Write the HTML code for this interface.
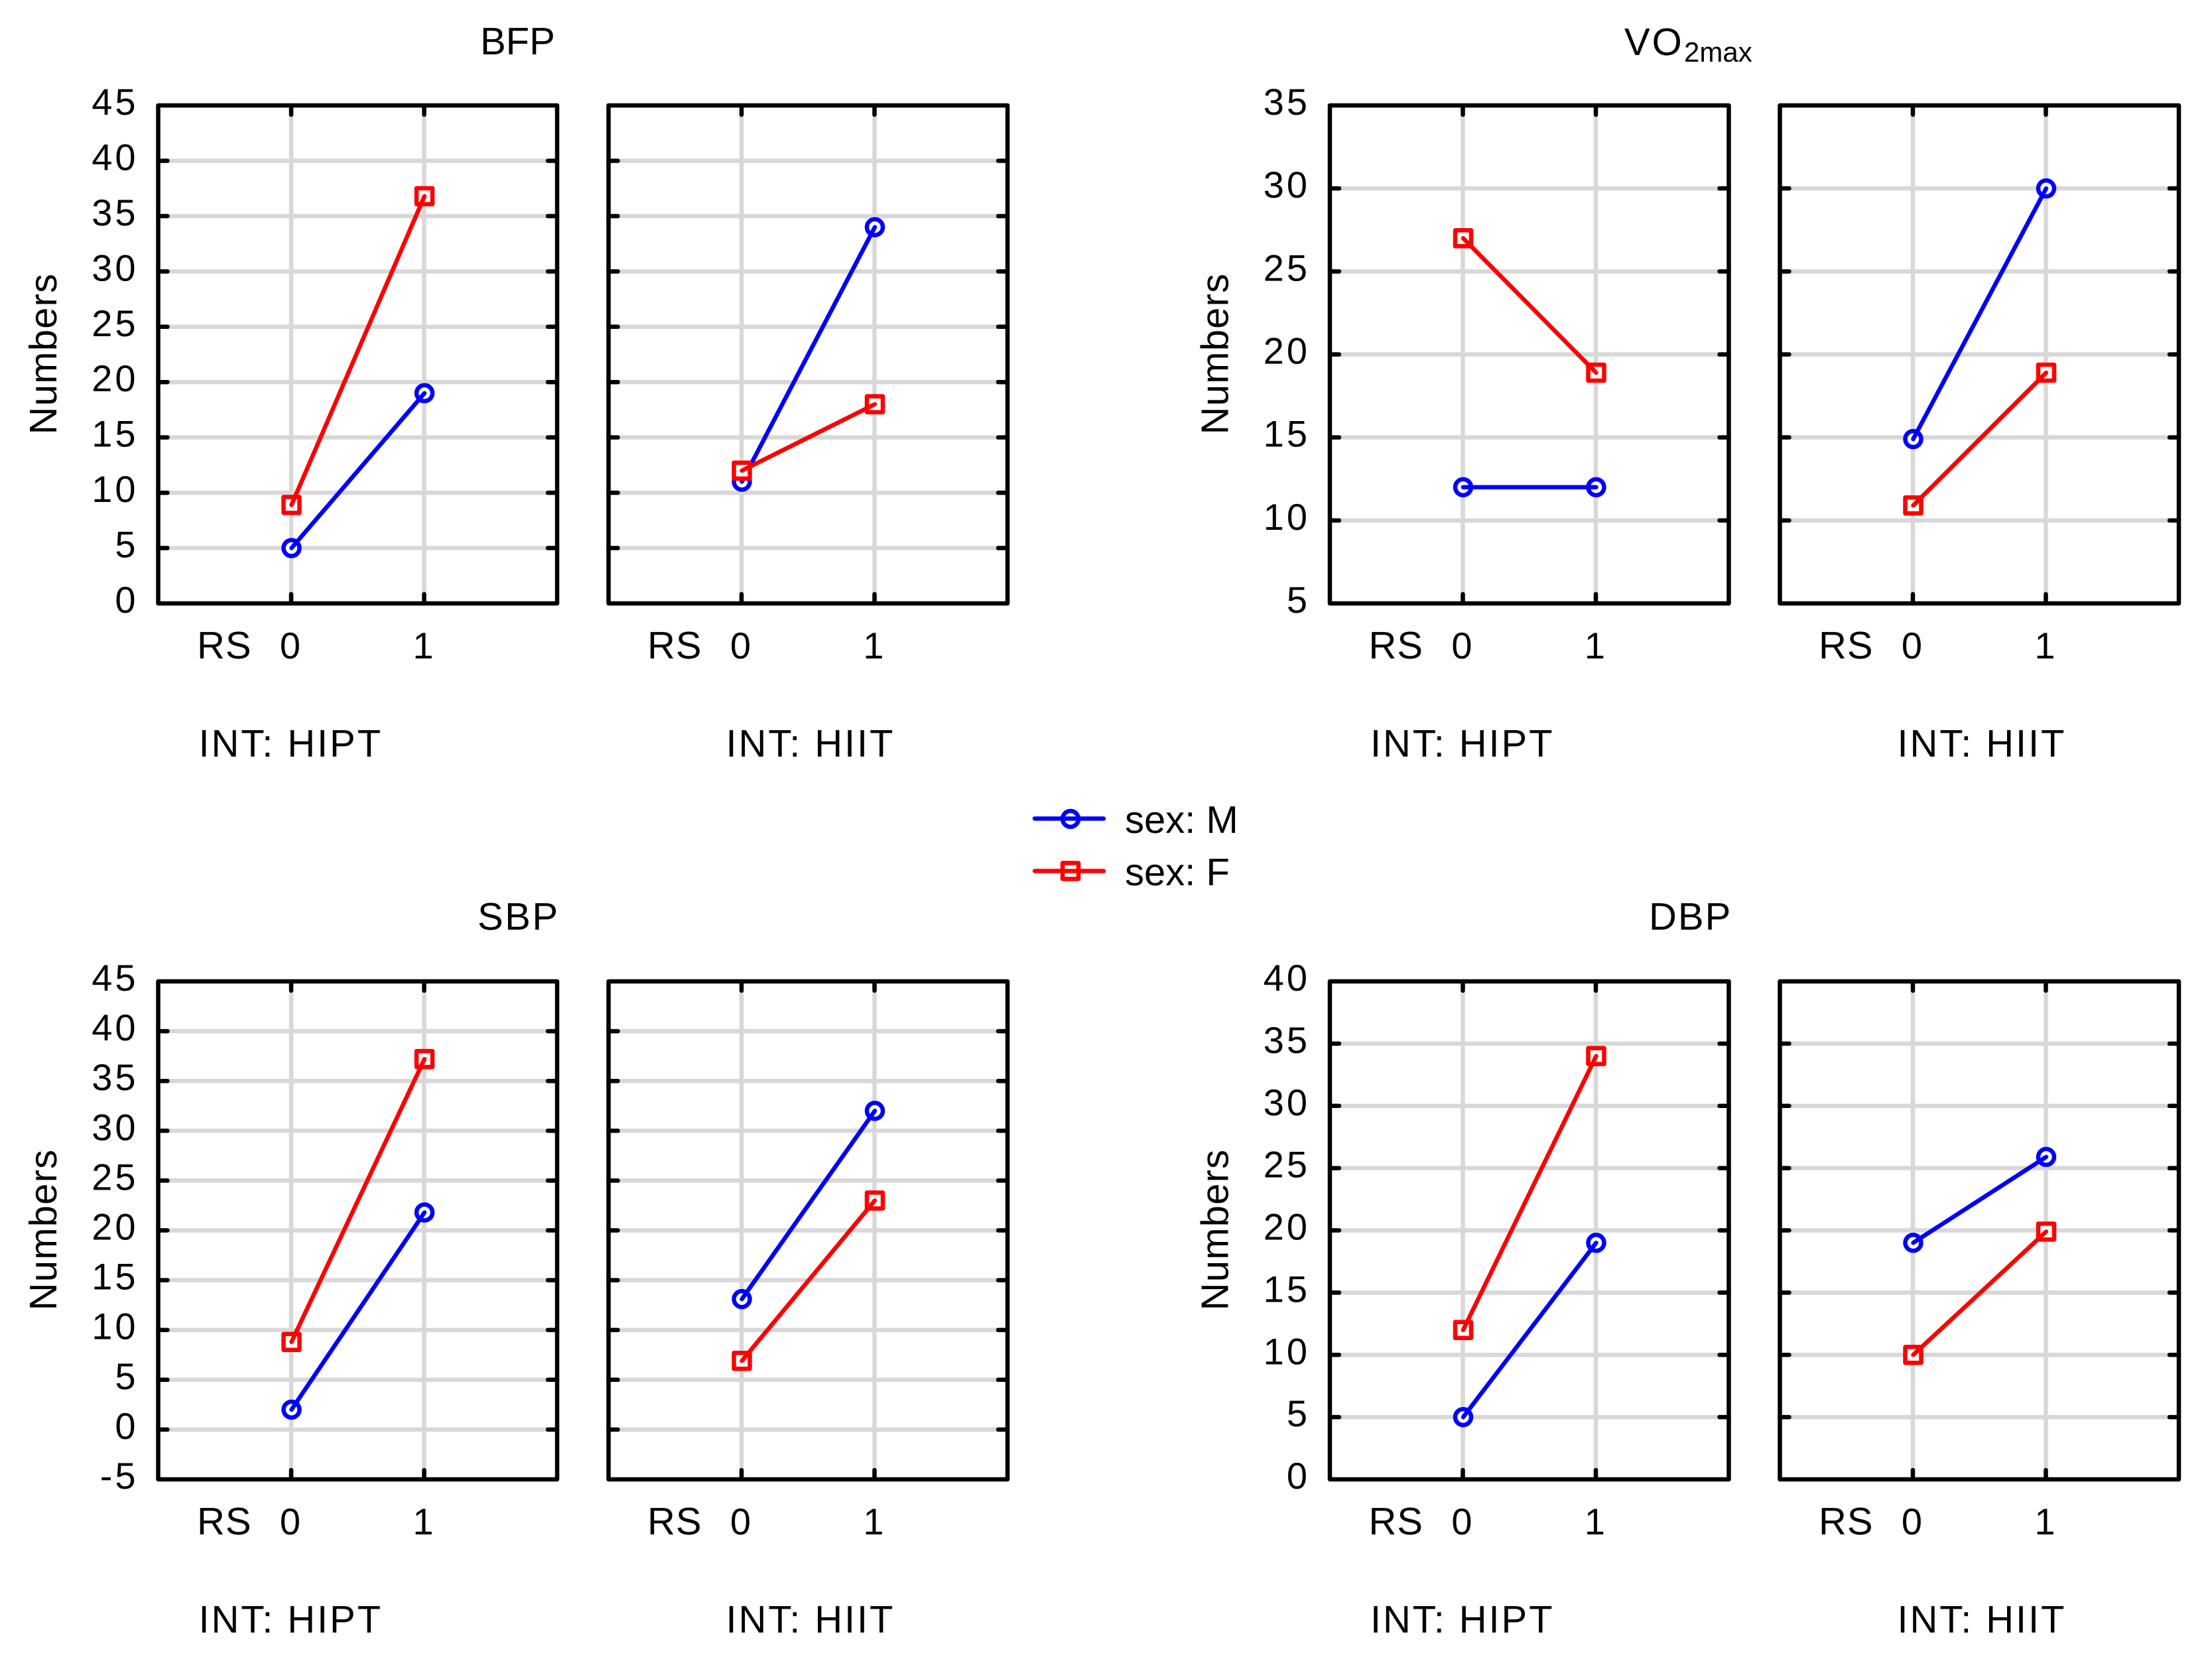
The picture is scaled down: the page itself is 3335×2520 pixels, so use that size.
<!DOCTYPE html>
<html lang="en">
<head>
<meta charset="utf-8">
<title>Numbers by RS, INT and sex</title>
<style>
html,body{margin:0;padding:0;background:#fff;}
svg{display:block;}
text{font-family:"Liberation Sans",Arial,sans-serif;fill:#000;text-rendering:geometricPrecision;}
</style>
</head>
<body>
<svg id="chart" xmlns="http://www.w3.org/2000/svg" width="3335" height="2520" viewBox="0 0 3335 2520">
  <rect x="0" y="0" width="3335" height="2520" fill="#fff"/>
  <text x="724" y="82" font-size="58">BFP</text>
  <text x="2449" y="83" font-size="58" style="letter-spacing:3px">VO<tspan x="2539" y="93" font-size="42" style="letter-spacing:0">2max</tspan></text>
  <text x="720" y="1402" font-size="58" style="letter-spacing:2.5px">SBP</text>
  <text x="2486" y="1402" font-size="58" style="letter-spacing:2px">DBP</text>
  <g id="plots"></g>
  <g>
    <g>
      <line x1="1560" y1="1234.5" x2="1664" y2="1234.5" stroke="#0000ff" stroke-width="6.5" stroke-linecap="round"/>
      <circle cx="1614" cy="1235" r="12" fill="none" stroke="#0000ff" stroke-width="6.5"/>
      <text x="1696" y="1256" font-size="58">sex: M</text>
    </g>
    <g>
      <line x1="1560" y1="1313.5" x2="1664" y2="1313.5" stroke="#ff0000" stroke-width="6.5" stroke-linecap="round"/>
      <rect x="1602" y="1301.5" width="24" height="24" fill="none" stroke="#ff0000" stroke-width="6.5" stroke-linejoin="round"/>
      <text x="1696" y="1335" font-size="58">sex: F</text>
    </g>
  </g>
</svg>
<script>
// Category labels
const rsLevels = ['0', '1'];
const intLevels = ['HIPT', 'HIIT'];

// Y-axis tick labels
const bfpTicks = [0, 5, 10, 15, 20, 25, 30, 35, 40, 45];
const vo2Ticks = [5, 10, 15, 20, 25, 30, 35];
const sbpTicks = [-5, 0, 5, 10, 15, 20, 25, 30, 35, 40, 45];
const dbpTicks = [0, 5, 10, 15, 20, 25, 30, 35, 40];

// Series values, read at RS = 0 and RS = 1
const bfpHiptMale = [5, 19];
const bfpHiptFemale = [8.9, 36.8];
const bfpHiitMale = [11, 34];
const bfpHiitFemale = [12, 18];

const vo2HiptMale = [12, 12];
const vo2HiptFemale = [27, 18.9];
const vo2HiitMale = [14.9, 30];
const vo2HiitFemale = [10.9, 18.9];

const sbpHiptMale = [2, 21.8];
const sbpHiptFemale = [8.8, 37.2];
const sbpHiitMale = [13.1, 32];
const sbpHiitFemale = [6.9, 23];

const dbpHiptMale = [5, 19];
const dbpHiptFemale = [12, 34];
const dbpHiitMale = [19, 25.9];
const dbpHiitFemale = [10, 19.9];

const SVGNS = 'http://www.w3.org/2000/svg';
const root = document.getElementById('plots');
const PANEL_W = 601.5;
const PANEL_H = 751;
const BLUE = '#0000ff';
const RED = '#ff0000';
const GRID = '#d8d8d8';

function make(tag, parent, attrs) {
  const el = document.createElementNS(SVGNS, tag);
  for (const k in attrs) el.setAttribute(k, attrs[k]);
  parent.appendChild(el);
  return el;
}

function drawPanel(slug, left, top, ticks, male, female, intIndex, showY) {
  const bottom = top + PANEL_H;
  const right = left + PANEL_W;
  const yMin = ticks[0];
  const yMax = ticks[ticks.length - 1];
  const xScale = function (i) { return left + PANEL_W * (i + 1) / 3; };
  const yScale = function (v) { return bottom - (v - yMin) / (yMax - yMin) * PANEL_H; };

  const panel = make('g', root, {});
  
  

  // grid
  ticks.slice(1, -1).forEach(function (t) {
    const y = yScale(t);
    const g = make('line', panel, { x1: left, x2: right, y1: y, y2: y, stroke: GRID, 'stroke-width': 6.5 });
    
    
  });
  rsLevels.forEach(function (lab, i) {
    const x = xScale(i);
    const g = make('line', panel, { x1: x, x2: x, y1: top, y2: bottom, stroke: GRID, 'stroke-width': 6.5 });
    
    
  });

  // tick marks
  ticks.slice(1, -1).forEach(function (t) {
    const y = yScale(t);
    [[left, left + 14], [right, right - 14]].forEach(function (p) {
      const m = make('line', panel, { x1: p[0], x2: p[1], y1: y, y2: y, stroke: '#000', 'stroke-width': 6.5, 'stroke-linecap': 'round' });
      
      
    });
  });
  rsLevels.forEach(function (lab, i) {
    const x = xScale(i);
    [[top, top + 14], [bottom, bottom - 14]].forEach(function (p) {
      const m = make('line', panel, { x1: x, x2: x, y1: p[0], y2: p[1], stroke: '#000', 'stroke-width': 6.5, 'stroke-linecap': 'round' });
      
      
    });
  });

  // frame
  const frame = make('rect', panel, { x: left, y: top, width: PANEL_W, height: PANEL_H, fill: 'none', stroke: '#000', 'stroke-width': 6.5, 'stroke-linejoin': 'round' });
  
  

  // series (male first, female on top)
  [[male, BLUE, 'male'], [female, RED, 'female']].forEach(function (s) {
    const values = s[0];
    const color = s[1];
    const key = s[2];
    values.forEach(function (v, i) {
      const cx = xScale(i) + 0.5;
      const cy = yScale(v);
      let mk;
      if (key === 'male') {
        mk = make('circle', panel, { cx: cx, cy: cy, r: 12, fill: '#fff', stroke: color, 'stroke-width': 6.5 });
      } else {
        mk = make('rect', panel, { x: cx - 12, y: cy - 12, width: 24, height: 24, fill: '#fff', stroke: color, 'stroke-width': 6.5, 'stroke-linejoin': 'round' });
      }
      
      
    });
    const ln = make('line', panel, {
      x1: xScale(0) + 0.5, y1: yScale(values[0]),
      x2: xScale(1) + 0.5, y2: yScale(values[1]),
      stroke: color, 'stroke-width': 6.5, 'stroke-linecap': 'round'
    });
    
    
  });

  // y tick labels and title
  if (showY) {
    ticks.forEach(function (t) {
      const lbl = make('text', panel, { x: left - 30, y: yScale(t) + 14, 'font-size': 56, 'text-anchor': 'end', style: 'letter-spacing:4px' });
      lbl.textContent = String(t);
      
      
    });
    const cy = top + PANEL_H / 2 - 1;
    const yt = make('text', panel, { x: 0, y: 0, 'font-size': 58, 'text-anchor': 'middle', style: 'letter-spacing:1.2px', transform: 'translate(' + (left - 153.5) + ' ' + cy + ') rotate(-90)' });
    yt.textContent = 'Numbers';
    
    
  }

  // x labels
  const rsLabel = make('text', panel, { x: xScale(0) - 142, y: bottom + 83, 'font-size': 58, style: 'letter-spacing:1px' });
  rsLabel.textContent = 'RS';
  
  

  rsLevels.forEach(function (lab, i) {
    const tl = make('text', panel, { x: xScale(i) - 1.5, y: bottom + 83, 'font-size': 56, 'text-anchor': 'middle' });
    tl.textContent = lab;
    
    
  });

  const intX = xScale(0) + (intIndex === 0 ? -139.5 : -23.5);
  const intLabel = make('text', panel, { x: intX, y: bottom + 231, 'font-size': 58, style: 'letter-spacing:2.9px' });
  intLabel.textContent = 'INT: ' + intLevels[intIndex];
  
  
}

const TOP_ROW = 159;
const BOTTOM_ROW = 1480;
const COL_A = 238.5;
const COL_B = 917.5;
const COL_C = 2005;
const COL_D = 2683.5;

drawPanel('bfp-hipt', COL_A, TOP_ROW, bfpTicks, bfpHiptMale, bfpHiptFemale, 0, true);
drawPanel('bfp-hiit', COL_B, TOP_ROW, bfpTicks, bfpHiitMale, bfpHiitFemale, 1, false);
drawPanel('vo2-hipt', COL_C, TOP_ROW, vo2Ticks, vo2HiptMale, vo2HiptFemale, 0, true);
drawPanel('vo2-hiit', COL_D, TOP_ROW, vo2Ticks, vo2HiitMale, vo2HiitFemale, 1, false);
drawPanel('sbp-hipt', COL_A, BOTTOM_ROW, sbpTicks, sbpHiptMale, sbpHiptFemale, 0, true);
drawPanel('sbp-hiit', COL_B, BOTTOM_ROW, sbpTicks, sbpHiitMale, sbpHiitFemale, 1, false);
drawPanel('dbp-hipt', COL_C, BOTTOM_ROW, dbpTicks, dbpHiptMale, dbpHiptFemale, 0, true);
drawPanel('dbp-hiit', COL_D, BOTTOM_ROW, dbpTicks, dbpHiitMale, dbpHiitFemale, 1, false);
</script>
</body>
</html>
